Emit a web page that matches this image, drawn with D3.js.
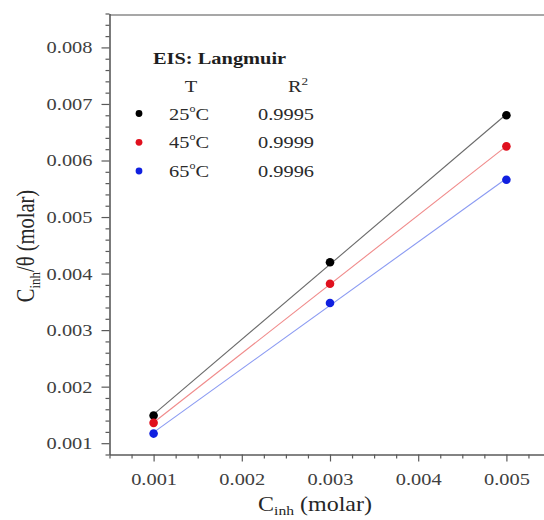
<!DOCTYPE html>
<html>
<head>
<meta charset="utf-8">
<script src="https://cdn.jsdelivr.net/npm/d3@7"></script>
<style>
  html, body { margin: 0; padding: 0; background: #fff; }
  svg { display: block; }
  text { font-family: "Liberation Serif", "Times New Roman", serif; }
</style>
</head>
<body>
<svg id="chart" width="544" height="520"></svg>
<script>
// Inhibitor concentration (molar)
const concentrations = [0.001, 0.003, 0.005];

// C_inh / theta (molar) at each temperature
const series25 = [0.00149, 0.00420, 0.00680];
const series45 = [0.00136, 0.00382, 0.00625];
const series65 = [0.00117, 0.00348, 0.00566];

const temperatures = ["25", "45", "65"];
const rSquared = ["0.9995", "0.9999", "0.9996"];
const pointColors = ["#000000", "#e0101e", "#1020e0"];
const lineColors = ["#6a6a6a", "#f08a8a", "#8a9af2"];

const xTicks = [0.001, 0.002, 0.003, 0.004, 0.005];
const yTicks = [0.001, 0.002, 0.003, 0.004, 0.005, 0.006, 0.007, 0.008];

const allSeries = [series25, series45, series65];

// horizontal widening applied to all text glyphs
const SX = 1.2;

const svg = d3.select("#chart");

const x = d3.scaleLinear().domain([0.0005, 0.0055]).range([109.5, 550.5]);
const y = d3.scaleLinear().domain([0.0008, 0.0086]).range([454.5, 13.5]);

const axisColor = "#5a5a5a";
const tickTextColor = "#404040";

// minor ticks
const xMinor = d3.range(0.0005, 0.00551, 0.00025).filter(v => !xTicks.some(t => Math.abs(t - v) < 1e-9));
const yMinor = d3.range(0.0008, 0.00861, 0.0002).filter(v => !yTicks.some(t => Math.abs(t - v) < 1e-9));

// top frame line
svg.append("line")
  .attr("x1", x.range()[0]).attr("x2", 544)
  .attr("y1", 15).attr("y2", 15)
  .attr("stroke", "#8a8a8a").attr("stroke-width", 1.6);

// x axis
const gx = svg.append("g").attr("transform", `translate(0,${y.range()[0]})`);
gx.call(d3.axisBottom(x).tickValues(xTicks).tickFormat(d3.format(".3f")).tickSize(7).tickPadding(7).tickSizeOuter(0));
gx.append("g").call(d3.axisBottom(x).tickValues(xMinor).tickFormat("").tickSize(4).tickSizeOuter(0))
  .select(".domain").remove();

// y axis
const gy = svg.append("g").attr("transform", `translate(${x.range()[0]},0)`);
gy.call(d3.axisLeft(y).tickValues(yTicks).tickFormat(d3.format(".3f")).tickSize(8).tickPadding(9).tickSizeOuter(0));
gy.append("g").call(d3.axisLeft(y).tickValues(yMinor).tickFormat("").tickSize(4).tickSizeOuter(0))
  .select(".domain").remove();

[gx, gy].forEach(g => {
  g.selectAll(".domain").attr("stroke", axisColor).attr("stroke-width", 1.6);
  g.selectAll("line").attr("stroke", axisColor).attr("stroke-width", 1.2);
  g.selectAll("text")
    .attr("font-family", "Liberation Serif, Times New Roman, serif")
    .attr("font-size", 17)
    .attr("fill", tickTextColor);
});
gx.selectAll(".tick text").attr("transform", `scale(${SX},1)`).attr("dy", "0.95em");
gy.selectAll(".tick text").each(function () {
  const t = d3.select(this);
  t.attr("x", +t.attr("x") / SX).attr("transform", `scale(${SX},1)`);
});

// linear (Langmuir) fits and data points
const xLo = d3.min(concentrations), xHi = d3.max(concentrations);
allSeries.forEach((vals, i) => {
  const mx = d3.mean(concentrations), my = d3.mean(vals);
  const sxy = d3.sum(concentrations, (c, k) => (c - mx) * (vals[k] - my));
  const sxx = d3.sum(concentrations, c => (c - mx) * (c - mx));
  const slope = sxy / sxx, icpt = my - slope * mx;
  svg.append("line")
    .attr("x1", x(xLo)).attr("y1", y(icpt + slope * xLo))
    .attr("x2", x(xHi)).attr("y2", y(icpt + slope * xHi))
    .attr("stroke", lineColors[i]).attr("stroke-width", 1.1);
});
allSeries.forEach((vals, i) => {
  svg.append("g").selectAll("circle")
    .data(concentrations.map((c, k) => [c, vals[k]]))
    .join("circle")
    .attr("cx", d => x(d[0])).attr("cy", d => y(d[1]))
    .attr("r", 4.3).attr("fill", pointColors[i]);
});

// helper for widened text
function wideText(px, py, opts = {}) {
  const g = svg.append("g").attr("transform", `translate(${px},${py}) ${opts.rotate ? "rotate(-90) scale(1," + SX + ")" : "scale(" + SX + ",1)"}`);
  return g.append("text")
    .attr("text-anchor", opts.anchor || "start")
    .attr("font-size", opts.size || 17)
    .attr("font-weight", opts.bold ? "bold" : "normal")
    .attr("fill", opts.fill || "#2a2a2a");
}

// axis titles
const xt = wideText(315, 511, { anchor: "middle", size: 20, fill: "#262626" });
xt.append("tspan").text("C");
xt.append("tspan").attr("font-size", 13).attr("dy", 4).text("inh");
xt.append("tspan").attr("dy", -4).text(" (molar)");

const yt = wideText(34, 246, { anchor: "middle", size: 20.5, fill: "#262626", rotate: true });
yt.append("tspan").text("C");
yt.append("tspan").attr("font-size", 13).attr("dy", 5).text("inh");
yt.append("tspan").attr("dy", -5).text("/\u03B8 (molar)");

// legend
wideText(153, 64, { bold: true, fill: "#1e1e1e" }).text("EIS: Langmuir");
wideText(191, 92, { anchor: "middle" }).text("T");
const rh = wideText(298, 92, { anchor: "middle" });
rh.append("tspan").text("R");
rh.append("tspan").attr("font-size", 11).attr("dy", -7).text("2");

const rowY = [113.5, 142.3, 171];
temperatures.forEach((t, i) => {
  svg.append("circle").attr("cx", 139).attr("cy", rowY[i]).attr("r", 3.4).attr("fill", pointColors[i]);
  const tt = wideText(169, rowY[i] + 6);
  tt.append("tspan").text(t);
  tt.append("tspan").attr("font-size", 10).attr("dy", -8).text("o");
  tt.append("tspan").attr("dy", 8).text("C");
  wideText(258, rowY[i] + 6).text(rSquared[i]);
});
</script>
</body>
</html>
